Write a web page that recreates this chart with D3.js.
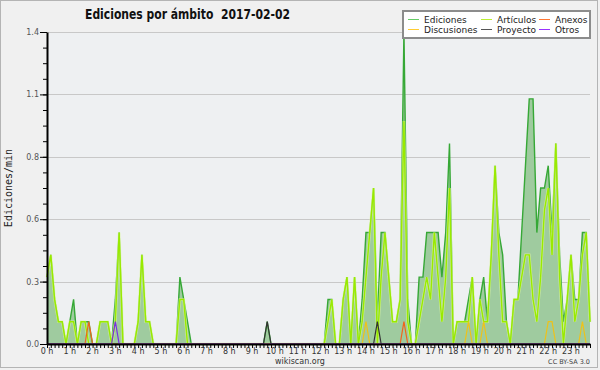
<!DOCTYPE html>
<html>
<head>
<meta charset="utf-8">
<script src="https://cdn.jsdelivr.net/npm/d3@7"></script>
<style>
body { margin: 0; background: #f0f0f0; }
svg text { font-family: "DejaVu Sans", sans-serif; }
</style>
</head>
<body>
<div id="chart"></div>
<script>
// edits per minute, one point every 10 minutes (00:00 .. 23:50), 12 points per row
var ediciones = [
    0.3,0.4,0.2,0.1,0.1,0,   0.1,0.2,0,0.1,0.1,0.1,
    0,0,0.1,0.1,0.1,0,       0.2,0.5,0,0,0,0,
    0.1,0.4,0.1,0.1,0,0,     0,0,0,0,0,0.3,
    0.2,0.1,0,0,0,0,         0,0,0,0,0,0,
    0,0,0,0,0,0,             0,0,0,0,0.1,0,
    0,0,0,0,0,0,             0,0,0,0,0,0,
    0,0,0.2,0.2,0,0,         0.2,0.3,0,0.3,0,0.2,
    0.5,0.5,0.7,0.1,0.5,0.5, 0.3,0.1,0.1,0.2,1.4,0.2,
    0,0,0.3,0.3,0.5,0.5,     0.5,0.5,0.3,0.5,0.9,0,
    0.1,0.1,0.1,0.2,0.3,0,   0.2,0.3,0.1,0.4,0.8,0.5,
    0.4,0.1,0,0.2,0.2,0.5,   0.8,1.1,1.1,0.5,0.7,0.7,
    0.8,0.5,0.9,0.4,0.1,0.2, 0.4,0.2,0.2,0.5,0.5,0.1
];
var articulos = [
    0.3,0.4,0.2,0.1,0.1,0,   0.1,0.1,0,0.1,0.1,0,
    0,0,0.1,0.1,0.1,0,       0.1,0.5,0,0,0,0,
    0.1,0.4,0.1,0.1,0,0,     0,0,0,0,0,0.2,
    0.2,0,0,0,0,0,           0,0,0,0,0,0,
    0,0,0,0,0,0,             0,0,0,0,0,0,
    0,0,0,0,0,0,             0,0,0,0,0,0,
    0,0,0.1,0.2,0,0,         0.2,0.3,0,0.3,0,0.1,
    0.3,0.5,0.7,0,0.3,0.5,   0.3,0.1,0.1,0.2,1.0,0.1,
    0,0,0.1,0.2,0.3,0.2,     0.5,0.3,0.1,0.3,0.7,0,
    0.1,0.1,0.1,0.1,0.3,0,   0.2,0.1,0.1,0.4,0.8,0.4,
    0.1,0.1,0,0.2,0.2,0.3,   0.4,0.4,0.2,0.1,0.3,0.6,
    0.7,0.4,0.9,0.3,0,0.2,   0.4,0.1,0.2,0.4,0.5,0.1
];
var discusiones = [
    0,0,0,0,0,0, 0,0,0,0,0,0,
    0,0,0,0,0,0, 0,0,0,0,0,0,
    0,0,0,0,0,0, 0,0,0,0,0,0,
    0,0,0,0,0,0, 0,0,0,0,0,0,
    0,0,0,0,0,0, 0,0,0,0,0,0,
    0,0,0,0,0,0, 0,0,0,0,0,0,
    0,0,0,0,0,0, 0,0,0,0,0,0,
    0.1,0,0,0,0,0, 0,0,0,0,0,0,
    0,0,0,0,0,0, 0,0,0,0,0,0,
    0,0,0,0.1,0,0, 0,0.1,0,0,0,0,
    0,0,0,0,0,0, 0,0,0,0,0,0,
    0.1,0.1,0,0,0,0, 0,0,0,0.1,0,0
];
var anexos = [
    0,0,0,0,0,0, 0,0,0,0,0,0.1,
    0,0,0,0,0,0, 0,0,0,0,0,0,
    0,0,0,0,0,0, 0,0,0,0,0,0,
    0,0,0,0,0,0, 0,0,0,0,0,0,
    0,0,0,0,0,0, 0,0,0,0,0,0,
    0,0,0,0,0,0, 0,0,0,0,0,0,
    0,0,0,0,0,0, 0,0,0,0,0,0,
    0,0,0,0,0,0, 0,0,0,0,0.1,0,
    0,0,0,0,0,0, 0,0,0,0,0,0,
    0,0,0,0,0,0, 0,0,0,0,0,0,
    0,0,0,0,0,0, 0,0,0,0,0,0,
    0,0,0,0,0,0, 0,0,0,0,0,0
];
var proyecto = [
    0,0,0,0,0,0, 0,0,0,0,0,0,
    0,0,0,0,0,0, 0,0,0,0,0,0,
    0,0,0,0,0,0, 0,0,0,0,0,0,
    0,0,0,0,0,0, 0,0,0,0,0,0,
    0,0,0,0,0,0, 0,0,0,0,0.1,0,
    0,0,0,0,0,0, 0,0,0,0,0,0,
    0,0,0,0,0,0, 0,0,0,0,0,0,
    0,0,0,0.1,0,0, 0,0,0,0,0,0,
    0,0,0,0,0,0, 0,0,0,0,0,0,
    0,0,0,0,0,0, 0,0,0,0,0,0,
    0,0,0,0,0,0, 0,0,0,0,0,0,
    0,0,0,0,0,0, 0,0,0,0,0,0
];
var otros = [
    0,0,0,0,0,0, 0,0,0,0,0,0,
    0,0,0,0,0,0, 0.1,0,0,0,0,0,
    0,0,0,0,0,0, 0,0,0,0,0,0,
    0,0,0,0,0,0, 0,0,0,0,0,0,
    0,0,0,0,0,0, 0,0,0,0,0,0,
    0,0,0,0,0,0, 0,0,0,0,0,0,
    0,0,0,0,0,0, 0,0,0,0,0,0,
    0,0,0,0,0,0, 0,0,0,0,0,0,
    0,0,0,0,0,0, 0,0,0,0,0,0,
    0,0,0,0,0,0, 0,0,0,0,0,0,
    0,0,0,0,0,0, 0,0,0,0,0,0,
    0,0,0,0,0,0, 0,0,0,0,0,0
];

var hourLabels = ["0 h","1 h","2 h","3 h","4 h","5 h","6 h","7 h","8 h","9 h","10 h","11 h",
                  "12 h","13 h","14 h","15 h","16 h","17 h","18 h","19 h","20 h","21 h","22 h","23 h"];
var yMajorTicks = [0, 0.28, 0.56, 0.84, 1.12, 1.4];

var legendItems = [
    { name: "Ediciones",   color: "#66cc66" },
    { name: "Artículos",   color: "#bbee33" },
    { name: "Anexos",      color: "#ff7733" },
    { name: "Discusiones", color: "#ffcc33" },
    { name: "Proyecto",    color: "#555555" },
    { name: "Otros",       color: "#9933ff" }
];

var width = 600,
    height = 370,
    margin = { top: 32, right: 10, bottom: 26, left: 47 },
    stepMin = 10;

var svg = d3.select("#chart").append("svg")
    .attr("width", width)
    .attr("height", height);

svg.append("rect")
    .attr("x", 0.5).attr("y", 0.5)
    .attr("width", width - 3).attr("height", height - 3)
    .attr("fill", "#f0f0f0")
    .attr("stroke", "#b4b4b4");

var x = d3.scaleLinear()
    .domain([0, (ediciones.length - 1) * stepMin])
    .range([margin.left, width - margin.right]);

var y = d3.scaleLinear()
    .domain([0, 1.4])
    .range([height - margin.bottom, margin.top]);

// plot background
svg.append("rect")
    .attr("x", x.range()[0]).attr("y", y.range()[1])
    .attr("width", x.range()[1] - x.range()[0])
    .attr("height", y.range()[0] - y.range()[1])
    .attr("fill", "#eef0f2");

// horizontal grid
svg.append("g").selectAll("line")
    .data(yMajorTicks.slice(1))
    .enter().append("line")
    .attr("x1", x.range()[0]).attr("x2", x.range()[1])
    .attr("y1", function (d) { return Math.round(y(d)) + 0.5; })
    .attr("y2", function (d) { return Math.round(y(d)) + 0.5; })
    .attr("stroke", "#c8c8c8");

var xOf = function (d, i) { return x(i * stepMin); };

var area = d3.area()
    .x(xOf)
    .y0(y(0))
    .y1(function (d) { return y(d); });

var line = d3.line()
    .x(xOf)
    .y(function (d) { return y(d); });

svg.append("path")
    .datum(ediciones)
    .attr("d", area)
    .attr("fill", "#9fcb9f");

svg.append("path")
    .datum(ediciones)
    .attr("d", line)
    .attr("fill", "none")
    .attr("stroke", "#36a836")
    .attr("stroke-width", 1.4);

// artículos gets a pale halo under the line
svg.append("path")
    .datum(articulos)
    .attr("d", line)
    .attr("fill", "none")
    .attr("stroke", "#ddf7a0")
    .attr("stroke-width", 2.6)
    .attr("opacity", 0.7);

svg.append("path")
    .datum(articulos)
    .attr("d", line)
    .attr("fill", "none")
    .attr("stroke", "#99ea00")
    .attr("stroke-width", 1.4);

var small = [
    { data: discusiones, color: "#eec21a" },
    { data: anexos,      color: "#f0641e" },
    { data: proyecto,    color: "#333333" },
    { data: otros,       color: "#7a2ee6" }
];
small.forEach(function (s) {
    svg.append("path")
        .datum(s.data)
        .attr("d", line)
        .attr("fill", "none")
        .attr("stroke", s.color)
        .attr("stroke-width", 1.2);
});

// x axis: minor ticks every 10 minutes, labels on the hour
var xAxis = svg.append("g")
    .attr("transform", "translate(0," + y(0) + ")")
    .call(d3.axisBottom(x)
        .tickValues(d3.range(0, 1440, stepMin))
        .tickSize(4)
        .tickSizeOuter(0)
        .tickFormat(""));
xAxis.select(".domain").attr("stroke", "#000").attr("stroke-width", 2);
xAxis.selectAll(".tick line").attr("stroke", "#000");

svg.append("g").selectAll("text")
    .data(hourLabels)
    .enter().append("text")
    .attr("x", function (d, i) { return x(i * 60); })
    .attr("y", y(0) + 9.5)
    .attr("text-anchor", "middle")
    .attr("font-size", 8)
    .attr("fill", "#333")
    .text(function (d) { return d; });

// y axis: minor ticks every 0.07
var yAxis = svg.append("g")
    .attr("transform", "translate(" + x.range()[0] + ",0)")
    .call(d3.axisLeft(y)
        .tickValues(d3.range(0, 21).map(function (k) { return k * 0.07; }))
        .tickSize(4)
        .tickSizeOuter(0)
        .tickFormat(""));
yAxis.select(".domain").attr("stroke", "#000").attr("stroke-width", 2);
yAxis.selectAll(".tick line").attr("stroke", "#000");

var yMajor = svg.append("g")
    .attr("transform", "translate(" + x.range()[0] + ",0)")
    .call(d3.axisLeft(y)
        .tickValues(yMajorTicks)
        .tickSize(7)
        .tickPadding(1)
        .tickSizeOuter(0)
        .tickFormat(d3.format(".1f")));
yMajor.select(".domain").remove();
yMajor.selectAll(".tick line").attr("stroke", "#000");
yMajor.selectAll(".tick text")
    .attr("font-family", "DejaVu Sans")
    .attr("font-size", 8)
    .attr("fill", "#555");

svg.append("text")
    .attr("transform", "translate(12," + ((y(0) + y(1.4)) / 2) + ") rotate(-90)")
    .attr("text-anchor", "middle")
    .style("font-family", "'DejaVu Sans Mono', monospace")
    .attr("font-size", 10)
    .attr("fill", "#222")
    .text("Ediciones/min");

svg.append("text")
    .attr("x", 85).attr("y", 18.5)
    .attr("textLength", 205)
    .attr("lengthAdjust", "spacingAndGlyphs")
    .style("white-space", "pre")
    .attr("font-weight", "bold")
    .attr("font-size", 14)
    .attr("fill", "#111")
    .text("Ediciones por ámbito  2017-02-02");

svg.append("text")
    .attr("x", 300).attr("y", 364)
    .attr("text-anchor", "middle")
    .attr("font-size", 8)
    .attr("fill", "#333")
    .text("wikiscan.org");

svg.append("text")
    .attr("x", 590).attr("y", 364)
    .attr("text-anchor", "end")
    .attr("font-size", 6.5)
    .attr("fill", "#444")
    .text("CC BY-SA 3.0");

// legend, 3 columns x 2 rows
var legend = svg.append("g");
legend.append("rect")
    .attr("x", 403).attr("y", 11)
    .attr("width", 187).attr("height", 27)
    .attr("fill", "#fff")
    .attr("stroke", "#8c8c8c")
    .attr("stroke-width", 2);

var colX = [408, 481, 539];
var rowY = [19, 29];
var entry = legend.selectAll("g.entry")
    .data(legendItems)
    .enter().append("g")
    .attr("class", "entry")
    .attr("transform", function (d, i) { return "translate(" + colX[i % 3] + "," + rowY[Math.floor(i / 3)] + ")"; });
entry.append("line")
    .attr("x1", 0).attr("x2", 11)
    .attr("y1", 0.5).attr("y2", 0.5)
    .attr("stroke", function (d) { return d.color; });
entry.append("text")
    .attr("x", 16).attr("y", 3.5)
    .attr("font-size", 9)
    .attr("fill", "#222")
    .text(function (d) { return d.name; });
</script>
</body>
</html>
